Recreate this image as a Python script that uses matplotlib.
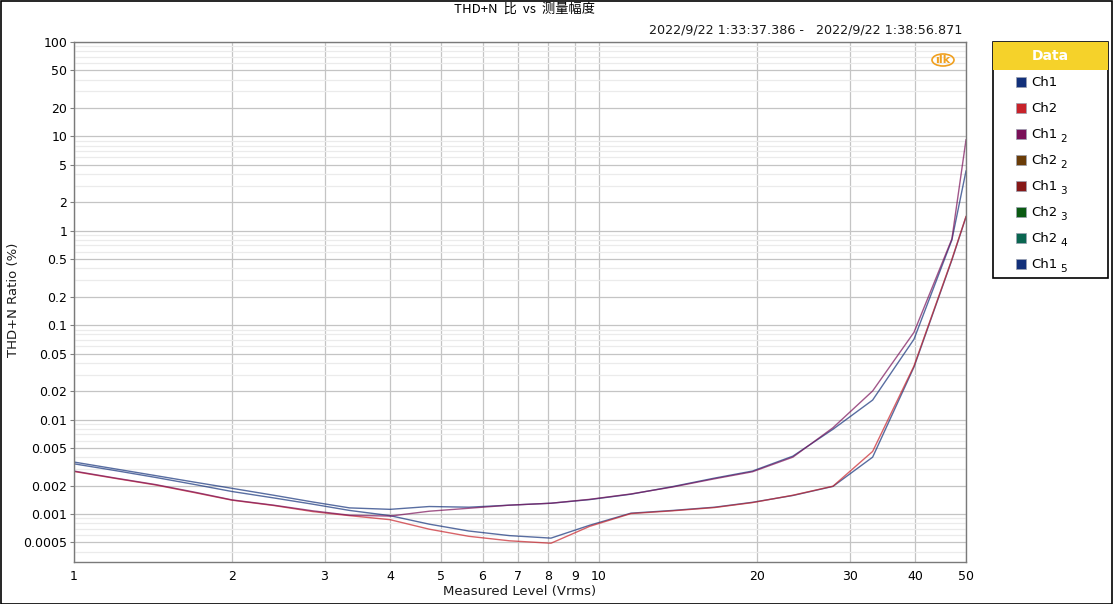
import numpy as np
import matplotlib
matplotlib.use("Agg")
import matplotlib.pyplot as plt
from matplotlib.patches import Rectangle, Ellipse

plt.rcParams['font.family'] = ['DejaVu Sans']

# measured level (Vrms)
level = [1.0, 1.2, 1.43, 1.7, 2.0, 2.4, 2.85, 3.35, 4.0, 4.75, 5.65, 6.75, 8.1, 9.6,
         11.5, 13.8, 16.6, 19.6, 23.4, 27.9, 33.2, 39.8, 47.0, 50.0]

# THD+N ratio (%)
ch1 = [0.00355, 0.00300, 0.00255, 0.00217, 0.00187, 0.00158, 0.00134, 0.00116, 0.00112,
       0.00120, 0.00118, 0.00124, 0.00130, 0.00142, 0.00162, 0.00195, 0.00240, 0.00285,
       0.0041, 0.0079, 0.0161, 0.071, 0.80, 4.3]
ch2 = [0.00282, 0.00238, 0.00203, 0.00168, 0.00140, 0.00123, 0.00106, 0.00096, 0.00087,
       0.00069, 0.00058, 0.00052, 0.00049, 0.00074, 0.00101, 0.00108, 0.00117, 0.00132,
       0.00158, 0.00197, 0.0046, 0.037, 0.50, 1.42]
ch1_2 = [0.00285, 0.00240, 0.00205, 0.00170, 0.00141, 0.00124, 0.00108, 0.00097, 0.00095,
         0.00107, 0.00115, 0.00124, 0.00130, 0.00143, 0.00163, 0.00193, 0.00236, 0.00280,
         0.0040, 0.0082, 0.0201, 0.084, 0.82, 9.2]
ch1_5 = [0.00340, 0.00288, 0.00244, 0.00205, 0.00173, 0.00148, 0.00127, 0.00109, 0.00096,
         0.00078, 0.00066, 0.00059, 0.000555, 0.00076, 0.00102, 0.00109, 0.00118, 0.00133,
         0.00157, 0.00196, 0.0040, 0.036, 0.49, 1.40]

legend_names = ["Ch1", "Ch2", "Ch1", "Ch2", "Ch1", "Ch2", "Ch2", "Ch1"]
legend_subs = ["", "", "2", "2", "3", "3", "4", "5"]
legend_colors = ["#12307a", "#c8222a", "#7a1058", "#6a3c08", "#861818", "#0a5a12", "#0a6650", "#12307a"]

x_ticks = [1, 2, 3, 4, 5, 6, 7, 8, 9, 10, 20, 30, 40, 50]
y_ticks = [100, 50, 20, 10, 5, 2, 1, 0.5, 0.2, 0.1, 0.05, 0.02, 0.01, 0.005, 0.002, 0.001, 0.0005]
y_ticklabels = ["100", "50", "20", "10", "5", "2", "1", "0.5", "0.2", "0.1", "0.05", "0.02",
                "0.01", "0.005", "0.002", "0.001", "0.0005"]

fig = plt.figure(figsize=(11.13, 6.04), dpi=100)
ax = fig.add_axes([74/1113, 42/604, 892/1113, 520/604])

# lines
ax.plot(level, ch1_5, color="#12307a", lw=1.0, alpha=0.7)
ax.plot(level, ch2, color="#c8222a", lw=1.0, alpha=0.7)
ax.plot(level, ch1, color="#12307a", lw=1.0, alpha=0.7)
ax.plot(level, ch1_2, color="#7a1058", lw=1.0, alpha=0.7)

ax.set_xscale("log")
ax.set_yscale("log")
ax.set_xlim(1, 50)
ax.set_ylim(0.00031, 100)

# grid
for v in x_ticks:
    ax.axvline(v, color="#c4c4c4", lw=0.9, zorder=0)
for v in y_ticks:
    ax.axhline(v, color="#c4c4c4", lw=0.9, zorder=0)
minors = []
for dec in [0.0001, 0.001, 0.01, 0.1, 1, 10]:
    for m in [3, 4, 6, 7, 8, 9]:
        if 0.00031 < m*dec < 100:
            minors.append(m*dec)
for v in minors:
    ax.axhline(v, color="#ebebeb", lw=0.9, zorder=0)

ax.set_xticks(x_ticks)
ax.set_xticklabels([str(v) for v in x_ticks])
ax.xaxis.set_minor_locator(matplotlib.ticker.NullLocator())
ax.set_yticks(y_ticks)
ax.set_yticklabels(y_ticklabels)
ax.yaxis.set_minor_locator(matplotlib.ticker.NullLocator())
ax.tick_params(axis="x", length=0, pad=6, labelsize=9, colors="#000000")
ax.tick_params(axis="y", length=3, width=0.8, color="#808080", pad=2, labelsize=9)

for s in ax.spines.values():
    s.set_color("#7a7a7a")
    s.set_linewidth(1.0)

ax.set_xlabel("Measured Level (Vrms)", fontsize=9.5, labelpad=1, color="#1a1a1a")
fig.text(14/1113, 1-300/604, "THD+N Ratio (%)", fontsize=9.5, rotation=90,
         ha="center", va="center", color="#1a1a1a")

# logo
ax.add_patch(Ellipse((943/1113, 1-60/604), 22/1113, 12/604, transform=fig.transFigure,
                     fill=False, ec="#f0a020", lw=1.2))
fig.text(943/1113, 1-60/604, "ıIk", color="#f0a020", fontsize=8, ha="center", va="center",
         fontweight="bold")

# titles
fig.text(525/1113, 1-13/604, "THD+N  比  vs  测量幅度", fontsize=9.5, ha="center", va="baseline",
         family=["Noto Sans CJK SC", "DejaVu Sans"])
fig.text(962/1113, 1-30/604, "2022/9/22 1:33:37.386 -   2022/9/22 1:38:56.871", fontsize=9.2,
         ha="right", va="center", color="#1a1a1a")

# legend box
lx0, ly0, lw_, lh = 993, 42, 115, 236
fig.patches.append(Rectangle((lx0/1113, 1-(ly0+lh)/604), lw_/1113, lh/604,
                             transform=fig.transFigure, fc="white", ec="black", lw=1.2))
fig.patches.append(Rectangle((lx0/1113, 1-(ly0+28)/604), lw_/1113, 28/604,
                             transform=fig.transFigure, fc="#f5d22a", ec="none"))
fig.text((lx0+lw_/2)/1113, 1-56/604, "Data", color="white", fontsize=10, fontweight="bold",
         ha="center", va="center")
for i, (name, sub, col) in enumerate(zip(legend_names, legend_subs, legend_colors)):
    yy = 82 + 26*i
    fig.patches.append(Rectangle((1016/1113, 1-(yy+5)/604), 10/1113, 10/604,
                                 transform=fig.transFigure, fc=col, ec="#9aa0b0", lw=0.5))
    fig.text(1031/1113, 1-yy/604, name, fontsize=9.5, ha="left", va="center")
    if sub:
        fig.text(1060/1113, 1-(yy+5)/604, sub, fontsize=7.5, ha="left", va="center")

# outer frame
fig.patches.append(Rectangle((0.0005, 0.0008), 0.999, 0.998, transform=fig.transFigure,
                             fill=False, ec="black", lw=1.2))

fig.savefig("out.png", dpi=100)
